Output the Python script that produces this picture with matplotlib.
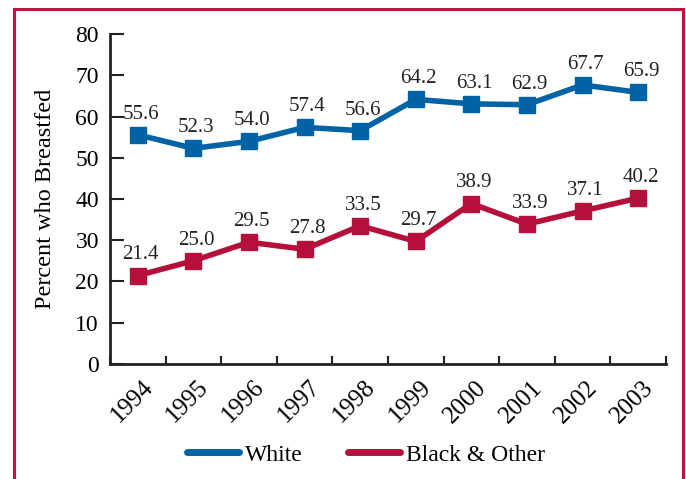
import numpy as np
import matplotlib.pyplot as plt
import matplotlib.transforms as mtransforms
from matplotlib.patches import Rectangle

years = ['1994', '1995', '1996', '1997', '1998', '1999', '2000', '2001', '2002', '2003']
white = [55.6, 52.3, 54.0, 57.4, 56.6, 64.2, 63.1, 62.9, 67.7, 65.9]
black = [21.4, 25.0, 29.5, 27.8, 33.5, 29.7, 38.9, 33.9, 37.1, 40.2]

blue = '#0063a6'
red = '#b5103c'

plt.rcParams['font.family'] = 'Liberation Serif'

fig = plt.figure(figsize=(6.86, 4.79), dpi=100)
ax = fig.add_axes([110/686, 1 - 363.7/479, 556/686, (363.7 - 34.3)/479])

x = np.arange(len(years))
ax.plot(x, white, color=blue, lw=4, marker='s', ms=11.5, label='White', solid_joinstyle='miter')
ax.plot(x, black, color=red, lw=4, marker='s', ms=11.5, label='Black & Other', solid_joinstyle='miter')

for xi, v in zip(x, white):
    ax.annotate(f'{v:.1f}', (xi, v), xytext=(2, 8), textcoords='offset points',
                ha='center', va='bottom', fontsize=15, color='#222222')
for xi, v in zip(x, black):
    ax.annotate(f'{v:.1f}', (xi, v), xytext=(2, 8), textcoords='offset points',
                ha='center', va='bottom', fontsize=15, color='#222222')

ax.set_xlim(-0.5, 9.5)
ax.set_ylim(0, 80)
ax.set_yticks(range(0, 81, 10))
ax.set_xticks(np.arange(-0.5, 10, 1))
ax.set_xticklabels([])
ax.set_xticks(x, minor=True)
ax.set_xticklabels(years, minor=True, rotation=45, ha='right', rotation_mode='anchor', fontsize=18)
ax.tick_params(axis='x', which='major', direction='in', length=6, width=1.5, color='#222222')
ax.tick_params(axis='x', which='minor', length=0, pad=9)
ax.tick_params(axis='y', direction='in', length=10, width=1.5, color='#222222', labelsize=17, pad=8)
offset = mtransforms.ScaledTranslation(4/100, 0, fig.dpi_scale_trans)
for lbl in ax.get_xticklabels(minor=True):
    lbl.set_transform(lbl.get_transform() + offset)

for s in ['top', 'right']:
    ax.spines[s].set_visible(False)
ax.spines['left'].set_linewidth(2)
ax.spines['bottom'].set_linewidth(2)
ax.spines['left'].set_color('#222222')
ax.spines['bottom'].set_color('#222222')

ax.set_ylabel('Percent who Breastfed', fontsize=17.5, labelpad=14)

leg = fig.legend(handles=ax.get_lines(), loc='center', bbox_to_anchor=(366/686, 1 - 455/479),
                 ncol=2, frameon=False, fontsize=17, handlelength=2.2, columnspacing=1.9,
                 handletextpad=0.25)
for h in leg.legend_handles:
    h.set_marker('')
    h.set_linewidth(5)
    h.set_solid_capstyle('round')

fig.patches.append(Rectangle((14/686, -0.1), (683 - 14)/686, 1.1 - 9/479, transform=fig.transFigure,
                             fill=False, edgecolor='#c0143c', lw=2.2))

fig.savefig('out.png', dpi=100)
